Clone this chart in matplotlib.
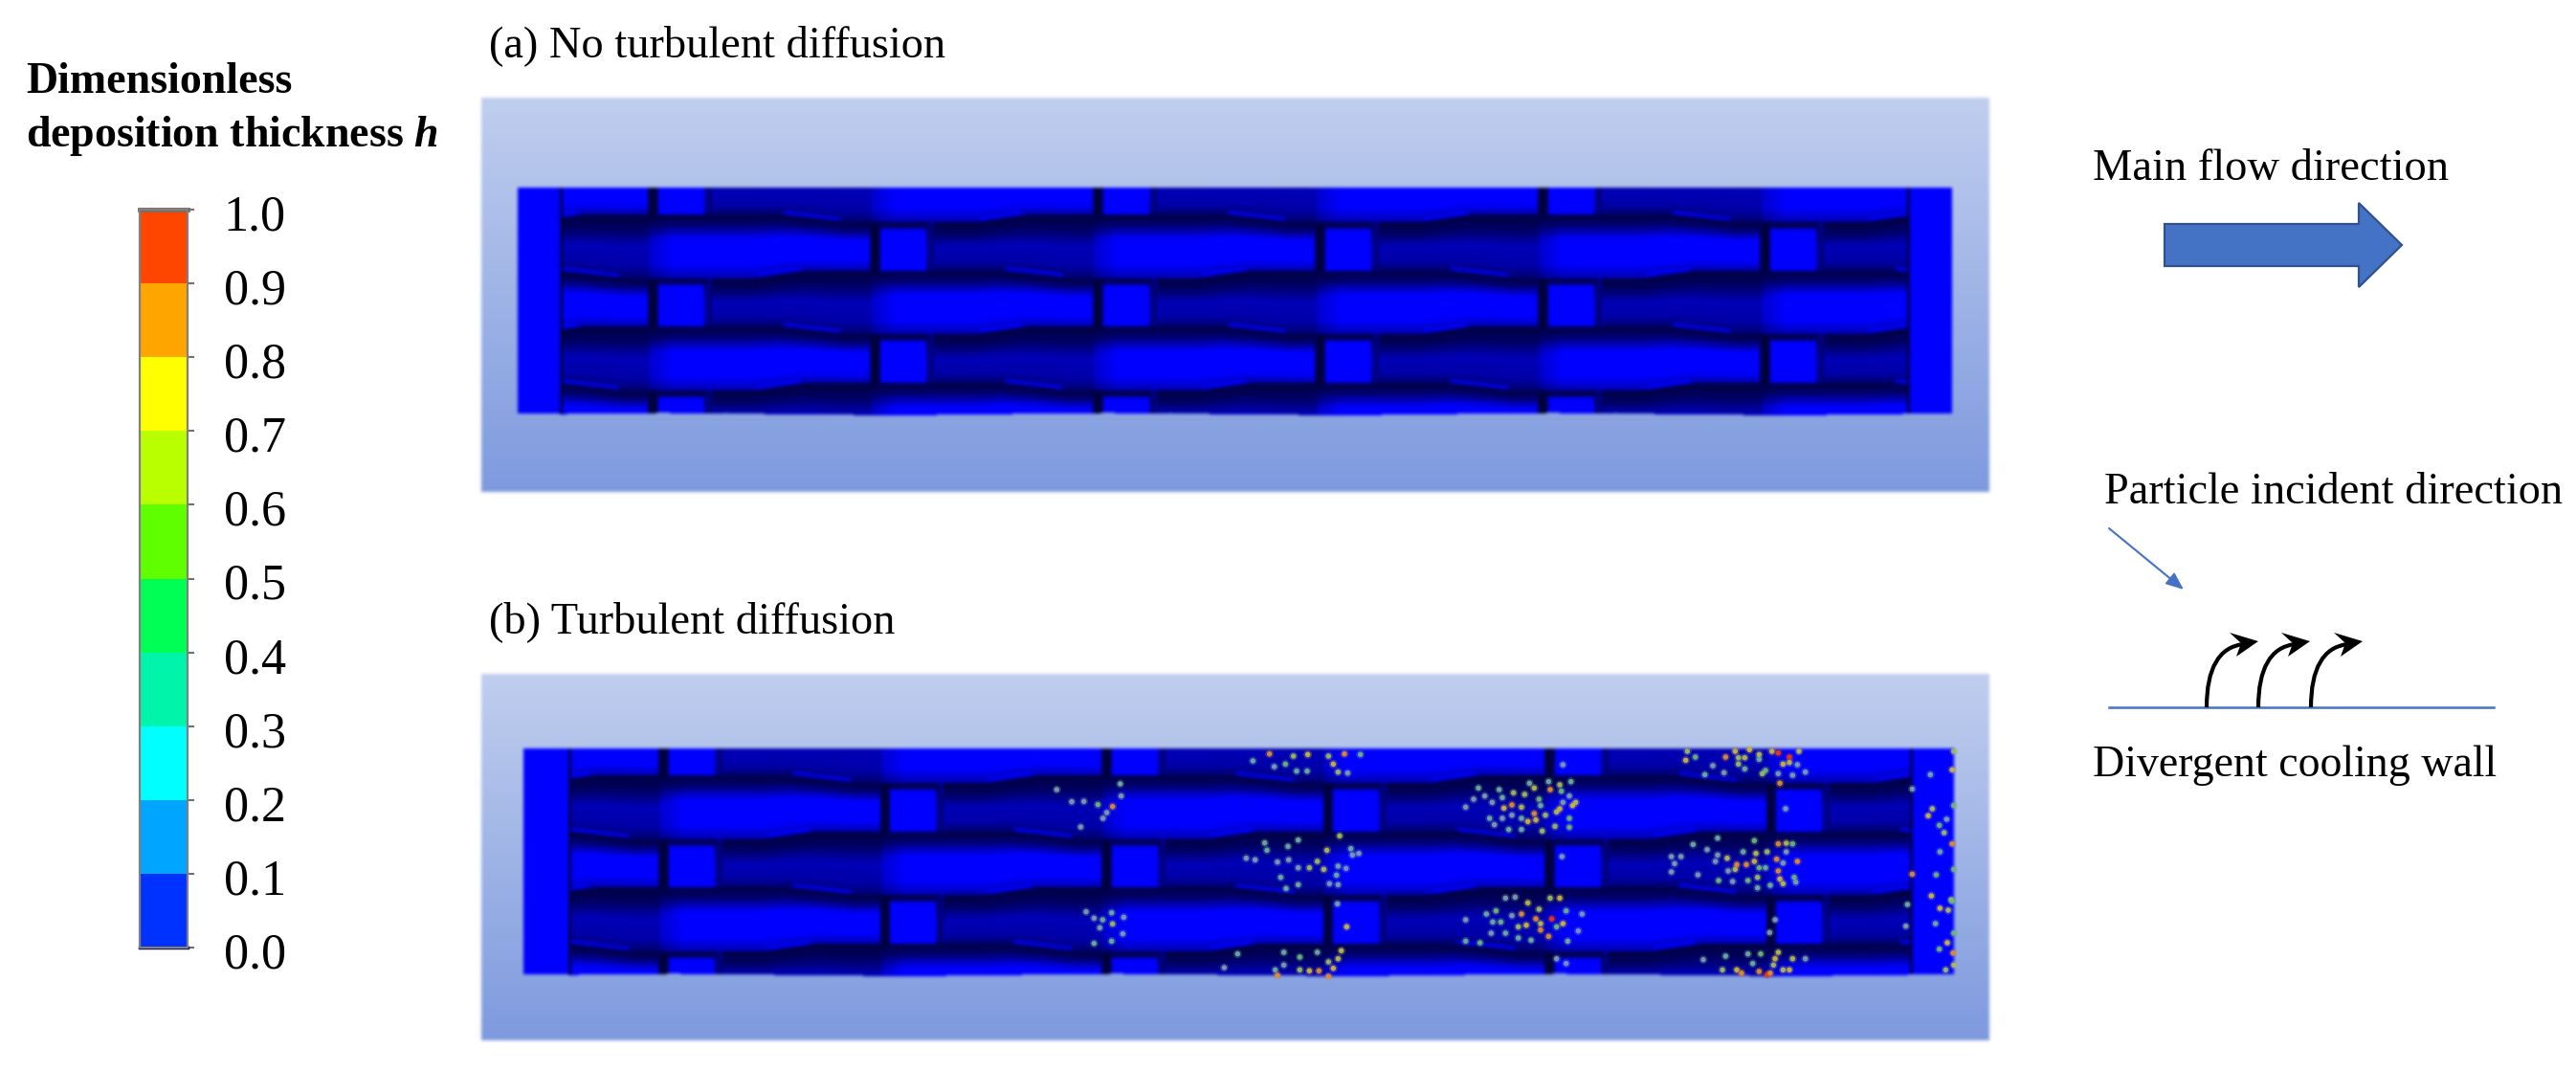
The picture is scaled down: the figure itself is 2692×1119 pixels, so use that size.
import numpy as np
import matplotlib
matplotlib.use('Agg')
import matplotlib.pyplot as plt
from matplotlib.colors import ListedColormap, BoundaryNorm
from matplotlib.cm import ScalarMappable
from matplotlib.patches import Polygon, PathPatch
from matplotlib.path import Path
from matplotlib.transforms import ScaledTranslation

plt.rcParams['font.family'] = ['Liberation Serif', 'DejaVu Serif']
plt.rcParams['mathtext.fontset'] = 'custom'
plt.rcParams['mathtext.rm'] = 'Liberation Serif'
plt.rcParams['mathtext.bfit'] = 'Liberation Serif:italic:bold'

# colour scale
levels = [0.0, 0.1, 0.2, 0.3, 0.4, 0.5, 0.6, 0.7, 0.8, 0.9, 1.0]
level_colors = ['#0032ff', '#00a5ff', '#00ffff', '#00f5aa', '#00ff55',
                '#5fff00', '#b9ff00', '#ffff00', '#ffa500', '#ff4600']
# same levels as they look once the small particles are smeared in the picture
particle_colors = ['#6f86c8', '#7f96c0', '#7fa0b0', '#70b0a0', '#70b878',
                   '#a0bc60', '#b8bc50', '#d0b840', '#e09030', '#e83c10']

# wave of the cooling wall, one period (pixels along / across the flow)
edge_u = [0, 135, 205, 340, 395, 465]
edge_dy = [0, 0, 8, 8, 0, 0]
bottom_u = [0, 12, 40, 80, 120, 212, 215, 298, 302, 380, 465]
bottom_dy = [0, -1.5, 0, -1, 0, 0.5, 2, 2, 0.5, 0, 0]
bright_v = [0, 0.15, 0.38, 0.78, 1]
bright_b = [0.28, 0.42, 1.0, 1.0, 0.68]
dim_v = [0, 0.22, 0.5, 0.8, 1]
dim_b = [0.26, 0.38, 0.72, 0.66, 0.42]
row_tops = [-30.5, 28, 86.5, 145, 204, 262]

crop_left = [
    (193, 150, .2), (240, 188, .2), (278, 187, .2), (322, 197, .4), (368, 203, .8), (350, 222, .2),
    (338, 240, .2), (268, 267, .2), (395, 170, .2), (392, 132, .3), (285, 533, .2), (310, 553, .2),
    (337, 558, .3), (365, 536, .3), (403, 550, .2), (328, 583, .2), (368, 571, .5), (400, 602, .2),
    (365, 625, .3), (310, 632, .3), (808, 60, .3), (860, 38, .8), (935, 45, .5), (980, 40, .7),
    (1045, 45, .5), (1095, 38, .8), (1145, 40, .4), (910, 70, .4), (875, 78, .2), (945, 92, .3),
    (978, 92, .3), (1060, 70, .7), (1075, 95, .5), (1105, 98, .2), (845, 317, .3), (852, 340, .3),
    (787, 365, .2), (815, 370, .2), (885, 377, .2), (920, 370, .2), (918, 328, .3), (950, 308, .3),
    (1040, 340, .6), (1080, 295, .5), (1120, 355, .2), (1140, 350, .2), (1115, 335, .3), (950, 395, .2),
    (985, 395, .5), (1010, 375, .5), (1030, 400, .6), (1100, 397, .15), (1075, 390, .3), (1070, 418, .3),
    (895, 425, .3), (912, 460, .3), (950, 448, .3), (1048, 445, .2), (1075, 448, .2), (1073, 508, .2),
    (1102, 580, .75), (760, 665, .3), (718, 708, .2), (905, 660, .3), (955, 675, .4), (1010, 660, .3),
    (1085, 655, .6), (905, 700, .2), (878, 715, .3), (885, 732, .8), (955, 715, .5), (985, 718, .7),
    (1015, 718, .85), (1045, 690, .5), (1060, 710, .7), (1045, 735, .8), (1075, 680, .6),
]
crop_right = [
    (700, 30, .5), (725, 48, .4), (695, 58, .7), (780, 75, .2), (755, 103, .3), (815, 97, .2), (820, 48, .8),
    (850, 30, .7), (860, 50, .5), (860, 70, .5), (880, 50, .6), (895, 25, .7), (925, 40, .6), (925, 55, .3),
    (945, 90, .4), (935, 100, .5), (965, 30, .7), (985, 35, .95), (1020, 48, .95), (1000, 70, .7), (1020, 65, .6),
    (1050, 30, .6), (1045, 72, .2), (1070, 95, .2), (1030, 105, .2), (985, 100, .2), (990, 130, .8), (880, 85, .3),
    (5, 205, .2), (30, 180, .2), (45, 145, .3), (65, 170, .2), (88, 190, .2), (110, 150, .3), (120, 175, .3),
    (150, 198, .85), (125, 208, .7), (180, 205, .6), (155, 160, .5), (190, 165, .5), (220, 145, .6), (235, 180, .4),
    (240, 200, .3), (220, 225, .8), (200, 250, .7), (225, 245, .75), (255, 230, .5), (270, 150, .8), (305, 155, .4),
    (300, 210, .75), (290, 220, .6), (340, 200, .7), (350, 190, .6), (330, 240, .4), (265, 125, .3), (300, 135, .5),
    (335, 125, .3), (330, 170, .2), (80, 240, .3), (95, 260, .2), (150, 230, .2), (180, 240, .3), (140, 275, .3),
    (180, 275, .3), (245, 280, .5), (285, 265, .5), (330, 268, .4), (205, 130, .3), (120, 240, .2), (310, 190, .2),
    (650, 360, .2), (680, 360, .2), (660, 382, .2), (650, 408, .2), (733, 417, .2), (718, 322, .3), (762, 338, .2),
    (795, 302, .3), (795, 355, .2), (788, 375, .2), (825, 365, .6), (855, 385, .8), (850, 400, .6), (828, 405, .2),
    (798, 435, .4), (842, 438, .2), (875, 345, .3), (885, 385, .85), (910, 375, .7), (915, 350, .6), (950, 345, .5),
    (925, 395, .4), (890, 435, .4), (920, 425, .5), (960, 450, .3), (985, 320, .8), (1010, 318, .6), (1030, 320, .4),
    (910, 310, .4), (980, 368, .85), (1000, 380, .2), (1045, 375, .85), (985, 405, .8), (990, 430, .7), (1000, 445, .6),
    (1035, 425, .4), (1040, 440, .2), (945, 395, .3), (920, 458, .3), (1010, 345, .2), (5, 558, .2), (70, 540, .3),
    (100, 530, .4), (115, 565, .4), (90, 565, .3), (130, 490, .2), (160, 487, .2), (150, 545, .2), (180, 540, .85),
    (200, 505, .6), (235, 525, .5), (300, 490, .75), (270, 490, .5), (320, 530, .3), (275, 555, .95), (225, 555, .8),
    (195, 575, .75), (170, 580, .5), (240, 590, .8), (265, 610, .8), (310, 570, .7), (290, 580, .4), (370, 540, .2),
    (358, 593, .15), (85, 600, .2), (130, 600, .3), (170, 615, .3), (210, 622, .3), (325, 625, .3), (50, 630, .4),
    (5, 625, .3), (240, 570, .6), (290, 680, .2), (320, 695, .15), (310, 72, .2), (750, 683, .2), (820, 672, .3),
    (810, 715, .5), (855, 715, .7), (870, 725, .8), (890, 665, .3), (905, 695, .3), (925, 720, .8), (950, 730, .9),
    (930, 665, .4), (975, 680, .7), (985, 660, .6), (970, 700, .5), (1000, 715, .6), (1030, 680, .6), (1020, 715, .7),
    (1070, 680, .2), (960, 725, .8), (1462, 103, .3), (1468, 210, .6), (1455, 232, .7), (1513, 243, .2), (1490, 262, .4),
    (1505, 285, .5), (1530, 320, .85), (1492, 345, .3), (1480, 417, .4), (1465, 483, .7), (1527, 495, .5), (1492, 522, .7),
    (1518, 528, .6), (1478, 570, .3), (1515, 630, .75), (1490, 650, .4), (1533, 662, .85), (1510, 715, .5), (1530, 88, .7),
    (1535, 30, .5), (1535, 200, .4), (1530, 500, .4), (1535, 600, .4), (1535, 400, .4), (1535, 700, .6), (1008, 210, .2),
    (307, 360, .2), (975, 558, .2), (958, 598, .2), (1385, 578, .2), (1405, 148, .2), (1405, 415, .8), (1390, 510, .3),
]


def smooth(img, weights=(1, 2, 3, 4, 3, 2, 1)):
    w = np.array(weights, dtype=float) / sum(weights)
    for axis in (0, 1):
        out = np.zeros_like(img)
        for k, wk in enumerate(w):
            out += wk * np.roll(img, k - len(w) // 2, axis=axis)
        img = out
    return img


def row_shade(U, v):
    bright = np.interp(v, bright_v, bright_b)
    dim = np.interp(v, dim_v, dim_b)
    # dim part of the row turns bright just after U = 0
    w = np.clip((np.where(U > 380, U - 465, U) + 15) / 40, 0, 1)
    w = np.where(U >= 235, 0, w)
    b = dim + (bright - dim) * w
    # cross duct (pillar) and its two grooves
    b = np.where((U >= 242) & (U < 290), np.interp(v, [0, 0.1, 0.16, 1], [0.3, 0.38, 1.0, 1.0]), b)
    b = np.where((U >= 231) & (U < 242), 0.2 + 0.15 * (np.abs(U - 236) / 6), b)
    b = np.where((U >= 292) & (U < 298), 0.5, b)
    return b


def draw_panel(ax, box, wall, strips, groove0, period):
    x0, x1, y0, y1 = box
    wx0, wx1, wy0, wy1 = wall
    pad = 6
    xs = np.arange(x0 - pad, x1 + pad)
    ys = np.arange(y0 - pad, y1 + pad)
    X, Y = np.meshgrid(xs, ys)
    img = np.ones((len(ys), len(xs), 3))
    # gradient backdrop
    t = np.clip((Y - y0) / (y1 - y0), 0, 1)[..., None]
    back = np.array([192, 206, 238]) / 255 + t * (np.array([126, 154, 222]) - np.array([192, 206, 238])) / 255
    inside = (X >= x0) & (X < x1) & (Y >= y0) & (Y < y1)
    img[inside] = back[inside]
    # wall shading, rows are shifted half a period from each other
    u = (X - groove0) % period * 465.0 / period
    bright = np.ones(X.shape)
    tops = []
    for i, top in enumerate(row_tops):
        Ui = (u + (i - 1) * 232.5) % 465
        tops.append(wy0 + top + np.interp(Ui, edge_u, edge_dy))
    for i in range(len(row_tops) - 1):
        Ui = (u + (i - 1) * 232.5) % 465
        v = (Y - tops[i]) / (tops[i + 1] - tops[i])
        sel = (v >= 0) & (v < 1)
        bright[sel] = row_shade(Ui[sel], v[sel])
        # thin light sliver along the sloped parts of the edge
        edge = (np.abs(Y - tops[i] + 3) < 1.5) & (((Ui > 140) & (Ui < 200)) | ((Ui > 345) & (Ui < 390)))
        bright[edge & (i > 0)] = 1.0
    sl, sr = strips
    bright[(X < sl) | (X >= sr)] = 1.0
    bright[(X >= sl) & (X < sl + 3)] = 0.3
    bright[(X >= sr - 3) & (X < sr)] = 0.3
    bottom = wy1 + np.interp(u, bottom_u, bottom_dy)
    bottom = np.where((X < sl) | (X >= sr), wy1, bottom)
    surf = (X >= wx0) & (X < wx1) & (Y >= wy0) & (Y < bottom)
    img[surf, 0] = 0
    img[surf, 1] = 0
    img[surf, 2] = bright[surf]
    img = smooth(img)
    ax.imshow(img, extent=(xs[0] - 0.5, xs[-1] + 0.5, ys[-1] + 0.5, ys[0] - 0.5),
              interpolation='nearest', aspect='auto', zorder=1)


fig = plt.figure(figsize=(26.92, 11.19), dpi=100)
ax = fig.add_axes([0, 0, 1, 1])

draw_panel(ax, (503, 2079, 103, 515), (541, 2040, 197, 433), (585, 1996), 678, 465)
draw_panel(ax, (503, 2079, 705, 1088), (547, 2042, 783, 1019), (594, 1999), 689, 463)
ax.set_xlim(0, 2692)
ax.set_ylim(1119, 0)
ax.axis('off')

# particles
pts_x = [1040 + p[0] / 3 for p in crop_left] + [1530 + p[0] / 3 for p in crop_right]
pts_y = [775 + p[1] / 3 for p in crop_left] + [775 + p[1] / 3 for p in crop_right]
pts_h = [p[2] for p in crop_left] + [p[2] for p in crop_right]
pcmap = ListedColormap(particle_colors)
norm = BoundaryNorm(levels, len(level_colors))
ax.scatter(pts_x, pts_y, c=pts_h, cmap=pcmap, norm=norm, s=42, marker='o', alpha=0.28, linewidths=0, zorder=3)
ax.scatter(pts_x, pts_y, c=pts_h, cmap=pcmap, norm=norm, s=15, marker='o', alpha=0.9, linewidths=0, zorder=4)

# colour bar
cax = fig.add_axes([146 / 2692, 1 - 990 / 1119, 50 / 2692, 771 / 1119])
cb = fig.colorbar(ScalarMappable(norm=norm, cmap=ListedColormap(level_colors)), cax=cax,
                  ticks=levels, spacing='proportional', drawedges=False)
cb.ax.set_yticklabels(['%.1f' % v for v in levels])
cb.ax.tick_params(axis='y', length=5, width=1.5, color='#707070', pad=22, labelsize=37.5)
cb.outline.set_edgecolor('#808080')
cb.outline.set_linewidth(1.6)
cb.ax.axhline(1.0, color='#806a60', lw=3.5, clip_on=False)
cb.ax.axhline(0.0, color='#101860', lw=2.5, clip_on=False)
shift = ScaledTranslation(0, -3 / 100, fig.dpi_scale_trans)
for lab in cb.ax.get_yticklabels():
    lab.set_transform(lab.get_transform() + shift)

# text
ax.text(27, 86, 'Dimensionless', fontsize=33, fontweight='bold', va='center', ha='left', zorder=5)
ax.text(27, 142, r'deposition thickness $\mathbfit{h}$', fontsize=33, fontweight='bold', va='center', ha='left', zorder=5)
ax.text(511, 48, '(a) No turbulent diffusion', fontsize=33.4, va='center', ha='left', zorder=5)
ax.text(511, 650, '(b) Turbulent diffusion', fontsize=33.4, va='center', ha='left', zorder=5)
ax.text(2187, 177, 'Main flow direction', fontsize=33.5, va='center', ha='left', zorder=5)
ax.text(2199, 515, 'Particle incident direction', fontsize=33.4, va='center', ha='left', zorder=5)
ax.text(2187, 800, 'Divergent cooling wall', fontsize=33, va='center', ha='left', zorder=5)

# main flow arrow
ax.add_patch(Polygon([(2262, 234), (2465, 234), (2465, 212), (2510, 256), (2465, 300), (2465, 278), (2262, 278)],
                     closed=True, facecolor='#4472c4', edgecolor='#2f528f', linewidth=1.6, zorder=5))

# incident arrow and wall
ax.annotate('', xy=(2282, 616), xytext=(2204, 552),
            arrowprops=dict(arrowstyle='-|>,head_length=1.1,head_width=0.45', color='#4472c4', lw=1.5,
                            shrinkA=0, shrinkB=0), zorder=5)
ax.plot([2204, 2606], [739, 739], color='#4472c4', lw=1.8, zorder=5)

# jets leaving the wall
for x in [2306, 2360, 2415]:
    curve = Path([(x, 739), (x, 678), (x + 38, 673)], [Path.MOVETO, Path.CURVE3, Path.CURVE3])
    ax.add_patch(PathPatch(curve, facecolor='none', edgecolor='black', lw=3, zorder=6))
    ax.add_patch(Polygon([(x + 54, 670), (x + 24, 661), (x + 36, 672), (x + 31, 686)], closed=True,
                         facecolor='black', edgecolor='none', zorder=6))

fig.savefig('out.png', dpi=100)
